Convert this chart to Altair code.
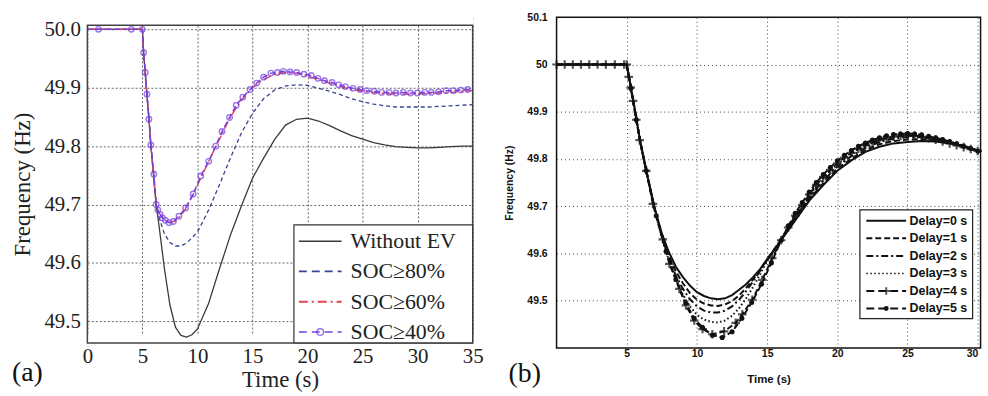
import altair as alt
import pandas as pd

# ---------------- panel (a) data ----------------
A_SERIES = ["Without EV", "SOC≥80%", "SOC≥60%", "SOC≥40%"]
A_XTICKS = [0, 5, 10, 15, 20, 25, 30, 35]
A_YTICKS = [49.5, 49.6, 49.7, 49.8, 49.9, 50.0]

TA = [0, 5, 5.1, 5.25, 5.4, 5.6, 5.75, 6.0, 6.25,
      6.5, 7, 7.5, 8, 8.5, 9, 9.5, 10,
      11, 12, 13, 14, 15, 16, 17, 18, 19, 20, 21, 22, 23, 24, 25, 26, 27, 28, 29, 30, 31, 32, 33, 34, 35]
WITHOUT_EV = [50, 50, 49.962, 49.927, 49.89, 49.846, 49.805, 49.752, 49.70,
              49.665, 49.59, 49.528, 49.49, 49.476, 49.473, 49.477, 49.487,
              49.53, 49.59, 49.648, 49.698, 49.745, 49.779, 49.811, 49.836, 49.846, 49.848,
              49.843, 49.835, 49.826, 49.818, 49.812, 49.806, 49.802, 49.799, 49.798, 49.797,
              49.797, 49.798, 49.799, 49.8, 49.8]
SOC80 = [50, 50, 49.962, 49.927, 49.89, 49.846, 49.805, 49.752, 49.70,
         49.678, 49.65, 49.635, 49.629, 49.629, 49.634, 49.643, 49.653,
         49.69, 49.734, 49.78, 49.823, 49.856, 49.881, 49.896, 49.903, 49.905, 49.904,
         49.899, 49.894, 49.888, 49.881, 49.876, 49.872, 49.869, 49.867, 49.867, 49.867,
         49.867, 49.868, 49.869, 49.87, 49.871]
SOC60 = [50, 50, 49.962, 49.927, 49.89, 49.846, 49.805, 49.752, 49.70,
         49.686, 49.674, 49.669, 49.672, 49.681, 49.695, 49.713, 49.733,
         49.773, 49.812, 49.85, 49.879, 49.9, 49.914, 49.923, 49.926, 49.925, 49.92,
         49.914, 49.908, 49.902, 49.897, 49.894, 49.892, 49.89, 49.889, 49.889, 49.889,
         49.89, 49.891, 49.892, 49.894, 49.895]
T40 = [0, 1, 4, 5, 5.11, 5.26, 5.41, 5.59, 5.77, 6.04,
       6.25, 6.4, 6.61, 6.82, 7.09, 7.42, 7.81, 8.32, 8.92, 9.61,
       10.3, 11.02, 11.66, 12.23, 12.92, 13.52, 14.12, 14.78, 15.38, 16.01,
       16.67, 17.27, 17.81, 18.41, 19.01, 19.68, 20.34, 20.94, 21.54, 22.23,
       22.83, 23.43, 24.12, 24.78, 25.38, 26.07, 26.73, 27.4, 28.03, 28.69,
       29.35, 29.98, 30.64, 31.24, 31.9, 32.59, 33.25, 33.94, 34.54, 35]
SOC40 = [50, 50, 50, 50, 49.96, 49.926, 49.889, 49.846, 49.802, 49.752,
         49.70, 49.691, 49.683, 49.677, 49.673, 49.669, 49.671, 49.68, 49.694, 49.718,
         49.749, 49.774, 49.80, 49.825, 49.849, 49.87, 49.884, 49.897, 49.908, 49.918,
         49.925, 49.926, 49.928, 49.927, 49.926, 49.923, 49.921, 49.916, 49.912, 49.909,
         49.905, 49.902, 49.899, 49.897, 49.895, 49.894, 49.892, 49.892, 49.891, 49.892,
         49.891, 49.891, 49.892, 49.892, 49.893, 49.895, 49.895, 49.896, 49.897, 49.898]

# ---------------- panel (b) data ----------------
B_SERIES = ["Delay=0 s", "Delay=1 s", "Delay=2 s", "Delay=3 s", "Delay=4 s", "Delay=5 s"]
B_XTICKS = [5, 10, 15, 20, 25, 30]
B_YTICKS = [49.5, 49.6, 49.7, 49.8, 49.9, 50, 50.1]

TB = [0, 5, 5.5, 6, 6.5, 7, 7.5, 8, 8.5, 9, 9.5, 10,
      10.5, 11, 11.5, 12, 12.5, 13, 13.5, 14, 14.5, 15,
      16, 17, 18, 19, 20, 21, 22, 23, 24, 25, 26, 27, 28, 29, 30]
D0 = [50, 50, 49.917, 49.83, 49.76, 49.695, 49.642, 49.603, 49.572, 49.55, 49.532, 49.518,
      49.51, 49.505, 49.503, 49.505, 49.512, 49.523, 49.535, 49.55, 49.567, 49.588,
      49.628, 49.67, 49.712, 49.745, 49.775, 49.797, 49.815, 49.826, 49.833, 49.836, 49.838,
      49.837, 49.833, 49.826, 49.818]
D1 = [50, 50, 49.917, 49.83, 49.76, 49.693, 49.638, 49.595, 49.562, 49.537, 49.516, 49.502,
      49.494, 49.49, 49.489, 49.492, 49.499, 49.511, 49.527, 49.545, 49.565, 49.587,
      49.629, 49.673, 49.715, 49.749, 49.779, 49.801, 49.819, 49.831, 49.838, 49.841, 49.842,
      49.84, 49.835, 49.827, 49.818]
D2 = [50, 50, 49.917, 49.83, 49.76, 49.692, 49.635, 49.59, 49.553, 49.525, 49.503, 49.488,
      49.479, 49.475, 49.475, 49.479, 49.488, 49.502, 49.52, 49.541, 49.563, 49.586,
      49.63, 49.676, 49.719, 49.754, 49.784, 49.806, 49.824, 49.836, 49.843, 49.846, 49.846,
      49.842, 49.836, 49.828, 49.818]
D3 = [50, 50, 49.917, 49.83, 49.76, 49.69, 49.633, 49.585, 49.545, 49.513, 49.488, 49.47,
      49.46, 49.455, 49.454, 49.458, 49.468, 49.484, 49.505, 49.529, 49.556, 49.584,
      49.631, 49.679, 49.723, 49.759, 49.789, 49.811, 49.829, 49.84, 49.847, 49.849, 49.848,
      49.844, 49.837, 49.828, 49.818]
T4 = [0, 0.58, 1.16, 1.74, 2.33, 2.92, 3.51, 4.15, 4.81, 5.0,
      5.14, 5.28, 5.45, 5.68, 5.92, 6.39, 6.86, 7.57, 8.04, 8.75,
      9.22, 9.81, 10.4, 11.1, 11.93, 12.76, 13.23, 13.94, 14.65, 15.36,
      16.0, 16.5, 17.0, 17.5, 18.0, 18.5, 19.0, 19.5, 20.0, 20.5,
      21.0, 21.5, 22.0, 22.5, 23.0, 23.5, 24.0, 24.5, 25.0, 25.5,
      26.0, 26.5, 27.0, 27.5, 28.0, 28.5, 29.0, 29.5, 30.0]
D4 = [50, 50, 50, 50, 50, 50, 50, 50, 50, 50,
      49.974, 49.951, 49.923, 49.883, 49.84, 49.775, 49.705, 49.63, 49.578, 49.525,
      49.49, 49.458, 49.44, 49.429, 49.435, 49.453, 49.471, 49.502, 49.544, 49.59,
      49.628, 49.655, 49.68, 49.703, 49.725, 49.745, 49.762, 49.777, 49.791, 49.803,
      49.813, 49.822, 49.829, 49.835, 49.84, 49.844, 49.847, 49.849, 49.85, 49.849,
      49.847, 49.844, 49.841, 49.837, 49.833, 49.829, 49.825, 49.821, 49.817]
T5 = [0, 5.0, 5.3, 5.68, 6.39, 7.1, 7.8, 8.5, 9.2, 9.8, 10.4, 11.1, 11.8, 12.5, 13.2, 13.9, 14.6, 15.3,
      16.0, 16.5, 17.0, 17.5, 18.0, 18.5, 19.0, 19.5, 20.0, 20.5,
      21.0, 21.5, 22.0, 22.5, 23.0, 23.5, 24.0, 24.5, 25.0, 25.5,
      26.0, 26.5, 27.0, 27.5, 28.0, 28.5, 29.0, 29.5, 30.0]
D5 = [50, 50, 49.95, 49.883, 49.775, 49.68, 49.604, 49.545, 49.495, 49.463, 49.443, 49.427, 49.422,
      49.434, 49.463, 49.496, 49.535, 49.58,
      49.628, 49.658, 49.685, 49.708, 49.73, 49.75, 49.767, 49.782, 49.796, 49.808,
      49.818, 49.827, 49.834, 49.84, 49.845, 49.849, 49.852, 49.853, 49.854, 49.853,
      49.851, 49.848, 49.845, 49.841, 49.837, 49.832, 49.827, 49.822, 49.817]

SERIF = "Liberation Serif"
SANS = "Liberation Sans"

# ---------------- panel (a) ----------------
A_W, A_H, A_TOP = 388, 328, 8   # plot frame occupies y = A_TOP .. A_H inside the panel
ax_a = alt.X("t:Q", scale=alt.Scale(domain=[0, 35], nice=False, zero=False),
             axis=alt.Axis(values=A_XTICKS, title="Time (s)", grid=True, gridColor="#666",
                           gridDash=[2, 2], gridWidth=1, domain=False, ticks=False,
                           labelFont=SERIF, labelFontSize=21, labelColor="#222", labelPadding=3,
                           labelFlush=False, titleFont=SERIF, titleFontSize=23,
                           titleFontWeight="normal", titleColor="#222", titlePadding=2))
ay_a = alt.Y("f:Q", scale=alt.Scale(domain=[49.463, 50.007], range=[A_H, A_TOP], nice=False, zero=False),
             axis=alt.Axis(values=A_YTICKS, format=".1f", title="Frequency (Hz)", grid=True,
                           gridColor="#666", gridDash=[2, 2], gridWidth=1, domain=False, ticks=False,
                           labelFont=SERIF, labelFontSize=21, labelColor="#222", labelPadding=7,
                           titleFont=SERIF, titleFontSize=23, titleFontWeight="normal",
                           titleColor="#222", titlePadding=10))


def series_df(ts, vs, name):
    return pd.DataFrame({"t": ts, "f": vs, "series": name})


A_STYLES = [
    dict(color="#3a3a3a", width=1.3),
    dict(color="#34438f", width=1.3, dash=[4, 3]),
    dict(color="#e5404e", width=1.4, dash=[8, 3, 2, 3]),
    dict(color="#7440e0", width=1.5, dash=[6, 3],
         marker=dict(shape="circle", filled=False, color="#7440e0", size=30, strokeWidth=1.4)),
]


def line(df, st, x, y):
    kw = dict(color=st["color"], strokeWidth=st["width"], clip=True)
    if st.get("dash"):
        kw["strokeDash"] = st["dash"]
    return alt.Chart(df).mark_line(**kw).encode(x=x, y=y, order="t:Q")


def one_row():
    return pd.DataFrame({"k": [0]})


a_layers = [
    # white strip above the frame (hides grid lines there)
    alt.Chart(one_row()).mark_rect(fill="white").encode(
        x=alt.value(-1), x2=alt.value(A_W + 1), y=alt.value(-1), y2=alt.value(A_TOP - 0.5)),
    line(series_df(TA, WITHOUT_EV, A_SERIES[0]), A_STYLES[0], ax_a, ay_a),
    line(series_df(TA, SOC80, A_SERIES[1]), A_STYLES[1], ax_a, ay_a),
    line(series_df(TA, SOC60, A_SERIES[2]), A_STYLES[2], ax_a, ay_a),
    line(series_df(T40, SOC40, A_SERIES[3]), A_STYLES[3], ax_a, ay_a),
    alt.Chart(series_df(T40, SOC40, A_SERIES[3])).mark_point(**A_STYLES[3]["marker"]).encode(
        x=ax_a, y=ay_a).transform_filter("datum.t > 0 && datum.t < 35"),
    # plot frame
    alt.Chart(one_row()).mark_rect(fill="white", fillOpacity=0, stroke="#444", strokeWidth=1.5).encode(
        x=alt.value(0), x2=alt.value(A_W), y=alt.value(A_TOP), y2=alt.value(A_H)),
]


def legend_layers(names, styles, box, x0, x1, xt, y0, dy, font, size, weight, color, box_stroke):
    layers = [alt.Chart(one_row()).mark_rect(
        fill="white", stroke=box_stroke, strokeWidth=1.2).encode(
        x=alt.value(box[0]), x2=alt.value(box[1]), y=alt.value(box[2]), y2=alt.value(box[3]))]
    for i, (name, st) in enumerate(zip(names, styles)):
        yy = y0 + i * dy
        base = alt.Chart(pd.DataFrame({"label": [name]}))
        kw = dict(color=st["color"], strokeWidth=st["width"])
        if st.get("dash"):
            kw["strokeDash"] = st["dash"]
        layers.append(base.mark_rule(**kw).encode(x=alt.value(x0), x2=alt.value(x1), y=alt.value(yy)))
        if st.get("marker"):
            layers.append(base.mark_point(**st["marker"]).encode(
                x=alt.value((x0 + x1) / 2), y=alt.value(yy)))
        layers.append(base.mark_text(align="left", baseline="middle", font=font, fontSize=size,
                                     fontWeight=weight, color=color).encode(
            x=alt.value(xt), y=alt.value(yy), text="label:N"))
    return layers


A_LEG_STYLES = [
    dict(color="#3a3a3a", width=1.5),
    dict(color="#34439a", width=1.8, dash=[8, 5]),
    dict(color="#e5404e", width=1.8, dash=[9, 4, 2, 4]),
    dict(color="#7440e0", width=1.5, dash=[8, 5],
         marker=dict(shape="circle", filled=False, color="#7440e0", size=45, strokeWidth=1.5)),
]
a_layers += legend_layers(A_SERIES, A_LEG_STYLES, (208, A_W, 209, A_H), 213, 256, 265, 225.5, 30.5,
                          SERIF, 22, "normal", "#222", "#333")
a_layers.append(alt.Chart(pd.DataFrame({"label": ["(a)"]})).mark_text(
    font=SERIF, fontSize=28, color="#111", align="center", baseline="middle").encode(
    x=alt.value(-60.5), y=alt.value(358), text="label:N"))

panel_a = alt.layer(*a_layers).properties(
    width=A_W, height=A_H, view=alt.ViewBackground(stroke="transparent"))

# ---------------- panel (b) ----------------
B_W, B_H = 427, 333
ax_b = alt.X("t:Q", scale=alt.Scale(domain=[0, 30.2], nice=False, zero=False),
             axis=alt.Axis(values=B_XTICKS, title="Time (s)", grid=True, gridColor="#444",
                           gridDash=[1, 3], gridWidth=1, domain=False, ticks=False,
                           labelFont=SANS, labelFontWeight="bold", labelFontSize=10.5,
                           labelColor="#111", labelPadding=1, labelFlush=5,
                           titleFont=SANS, titleFontWeight="bold", titleFontSize=11.5,
                           titleColor="#111", titlePadding=14))
ay_b = alt.Y("f:Q", scale=alt.Scale(domain=[49.4, 50.1], nice=False, zero=False),
             axis=alt.Axis(values=B_YTICKS, format="~f", title="Frequency (Hz)", grid=True,
                           gridColor="#444", gridDash=[1, 3], gridWidth=1, domain=False, ticks=False,
                           labelFont=SANS, labelFontWeight="bold", labelFontSize=10.5,
                           labelColor="#111", labelPadding=9.5,
                           titleFont=SANS, titleFontWeight="bold", titleFontSize=10.5,
                           titleColor="#111", titlePadding=12.5))

PLUS = "M-1,0L1,0M0,-1L0,1"
B_STYLES = [
    dict(color="#111", width=2.0),
    dict(color="#111", width=2.0, dash=[6, 3]),
    dict(color="#111", width=2.0, dash=[7, 3, 2, 3]),
    dict(color="#111", width=2.0, dash=[1.5, 2.5]),
    dict(color="#111", width=2.0, dash=[6, 3],
         marker=dict(shape=PLUS, filled=False, color="#111", size=75, strokeWidth=2.2)),
    dict(color="#111", width=2.0, dash=[6, 3],
         marker=dict(shape="circle", filled=True, color="#111", size=26, opacity=1)),
]
b_layers = [
    line(series_df(TB, D0, B_SERIES[0]), B_STYLES[0], ax_b, ay_b),
    line(series_df(TB, D1, B_SERIES[1]), B_STYLES[1], ax_b, ay_b),
    line(series_df(TB, D2, B_SERIES[2]), B_STYLES[2], ax_b, ay_b),
    line(series_df(TB, D3, B_SERIES[3]), B_STYLES[3], ax_b, ay_b),
    line(series_df(T4, D4, B_SERIES[4]), B_STYLES[4], ax_b, ay_b),
    line(series_df(T5, D5, B_SERIES[5]), B_STYLES[5], ax_b, ay_b),
    alt.Chart(series_df(T4, D4, B_SERIES[4])).mark_point(**B_STYLES[4]["marker"]).encode(x=ax_b, y=ay_b),
    alt.Chart(series_df(T5, D5, B_SERIES[5])).mark_point(**B_STYLES[5]["marker"]).encode(
        x=ax_b, y=ay_b).transform_filter("datum.t > 5"),
]
B_LEG_STYLES = [
    dict(color="#111", width=2.0),
    dict(color="#111", width=2.0, dash=[6, 3]),
    dict(color="#111", width=2.0, dash=[7, 3, 2, 3]),
    dict(color="#111", width=1.6, dash=[1.5, 2.5]),
    dict(color="#111", width=2.0, dash=[8, 4],
         marker=dict(shape=PLUS, filled=False, color="#111", size=60, strokeWidth=2.0)),
    dict(color="#111", width=2.0, dash=[8, 4],
         marker=dict(shape="circle", filled=True, color="#111", size=24, opacity=1)),
]
b_layers += legend_layers(B_SERIES, B_LEG_STYLES, (305.5, 419, 194, 303.5), 312, 352, 355.5, 205, 17.66,
                          SANS, 12.5, "bold", "#111", "#222")
b_layers.append(alt.Chart(pd.DataFrame({"label": ["(b)"]})).mark_text(
    font=SERIF, fontSize=28, color="#111", align="center", baseline="middle").encode(
    x=alt.value(-32), y=alt.value(359), text="label:N"))

panel_b = alt.layer(*b_layers).properties(
    width=B_W, height=B_H, view=alt.ViewBackground(stroke="#111", strokeWidth=1.5))

chart = alt.hconcat(panel_a, panel_b, spacing=84.5, bounds="flush").properties(
    padding={"left": 10, "top": 10, "right": 0, "bottom": 0}, background="white")

chart.save("out.html", embed_options={"renderer": "svg", "actions": False})
